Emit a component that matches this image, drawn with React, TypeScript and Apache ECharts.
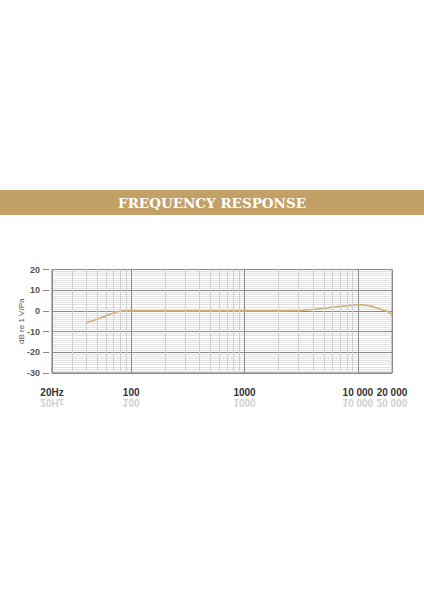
import React, { useEffect, useRef } from "react";
import * as echarts from "echarts";

const title = "FREQUENCY RESPONSE";
const yAxisName = "dB re 1 V/Pa";

// Frequency response curve (Hz, dB)
const freqs = [40, 45, 50, 56, 63, 70, 76, 85, 100, 200, 500, 1000, 2000, 2500, 3000, 4000, 5000, 6000, 7000, 8000, 9000, 10000, 11000, 12000, 13000, 15000, 17000, 20000];
const levels = [-6, -4.9, -4, -3, -1.9, -1, -0.3, 0, 0, 0, 0, 0, 0, 0.05, 0.2, 0.7, 1.3, 1.8, 2.2, 2.5, 2.8, 2.9, 2.9, 2.7, 2.3, 1.3, 0.2, -1.9];

// Grid lines
const minorFreqs = [30, 40, 50, 60, 70, 80, 90, 200, 300, 400, 500, 600, 700, 800, 900, 2000, 3000, 4000, 5000, 6000, 7000, 8000, 9000];
const labelFreqs = [20, 100, 1000, 10000, 20000];
const labelTexts = ["20Hz", "100", "1000", "10 000", "20 000"];

const yMin = -30;
const yMax = 20;
const yInterval = 10;

export default function App() {
  const ref = useRef<HTMLDivElement>(null);

  useEffect(() => {
    if (!ref.current) return;
    const chart = echarts.init(ref.current, null, { renderer: "svg" });
    const labelFor = (v: number) => {
      const r = Math.round(v);
      const i = labelFreqs.indexOf(r);
      return i >= 0 ? labelTexts[i] : "";
    };
    const banner = [
      {
        type: "rect",
        shape: { x: 0, y: 190, width: 424, height: 25 },
        style: { fill: "#c3a066" },
        z: 0,
      },
      {
        type: "text",
        x: 212,
        y: 202.5,
        style: {
          text: title,
          fill: "#ffffff",
          font: "bold 13.5px 'DejaVu Serif'",
          textAlign: "center",
          textVerticalAlign: "middle",
        },
        z: 1,
      },
    ];
    chart.setOption({
      animation: false,
      backgroundColor: "#ffffff",
      grid: {
        left: 52,
        right: 32,
        top: 269.5,
        bottom: 227,
        show: true,
        borderColor: "#6f6f6f",
        borderWidth: 1,
        backgroundColor: "transparent",
      },
      xAxis: {
        type: "log",
        logBase: 10,
        min: 20,
        max: 20000,
        offset: 4,
        axisLine: { show: false },
        axisTick: { show: true, length: 5, lineStyle: { color: "#888", width: 1 } },
        axisLabel: {
          margin: 10,
          color: "#333",
          fontWeight: "bold",
          fontSize: 10,
          fontFamily: "Liberation Sans, Arial, sans-serif",
          showMinLabel: true,
          showMaxLabel: true,
          formatter: (v: number) => labelFor(v),
        },
        splitLine: { show: true, lineStyle: { color: "#8a8a8a", width: 1 } },
      },
      yAxis: {
        type: "value",
        min: yMin,
        max: yMax,
        interval: yInterval,
        offset: 3,
        name: yAxisName,
        nameLocation: "middle",
        nameRotate: 90,
        nameGap: 24,
        nameMoveOverlap: false,
        nameTextStyle: { color: "#555", fontSize: 8, fontFamily: "Liberation Sans, Arial, sans-serif" },
        axisLine: { show: false },
        axisTick: { show: true, length: 6, lineStyle: { color: "#888", width: 1 } },
        axisLabel: {
          margin: 9,
          color: "#555",
          fontWeight: "bold",
          fontSize: 9,
          fontFamily: "Liberation Sans, Arial, sans-serif",
        },
        splitLine: { show: true, lineStyle: { color: "#8a8a8a", width: 1 } },
        minorTick: { show: false, splitNumber: 10 },
        minorSplitLine: { show: true, lineStyle: { color: "#e2e2e2", width: 1 } },
      },
      series: [
        {
          type: "line",
          data: [],
          silent: true,
          z: 1,
          markLine: {
            silent: true,
            symbol: ["none", "none"],
            label: { show: false },
            animation: false,
            lineStyle: { color: "#cfcfcf", type: "solid", width: 1 },
            data: minorFreqs.map((f) => ({ xAxis: f })),
          },
        },
        {
          type: "line",
          data: freqs.map((f, i) => [f, levels[i]]),
          smooth: 0.4,
          smoothMonotone: "x",
          showSymbol: false,
          z: 3,
          lineStyle: { color: "#d2ae74", width: 1.6 },
        },
      ],
      graphic: banner,
    });

    // Faint mirrored reflection of the frequency labels, positioned via the axis scale
    const reflections = labelFreqs.map((f, i) => {
      const x = chart.convertToPixel({ xAxisIndex: 0 }, f) as number;
      return {
        type: "text",
        x,
        y: 402.5,
        scaleY: -1,
        style: {
          text: labelTexts[i],
          fill: "#d0d0d0",
          font: "bold 10px 'Liberation Sans', Arial, sans-serif",
          textAlign: "center",
          textVerticalAlign: "middle",
        },
        z: 1,
      };
    });
    chart.setOption({ graphic: [...banner, ...reflections] });

    return () => chart.dispose();
  }, []);

  return (
    <div
      ref={ref}
      style={{ position: "fixed", left: 0, top: 0, width: 424, height: 600, background: "#fff" }}
    />
  );
}
